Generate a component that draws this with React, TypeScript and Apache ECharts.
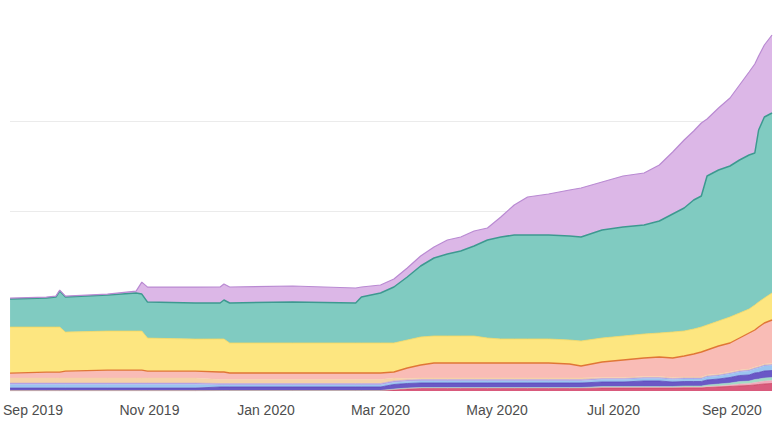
import React, { useEffect, useRef } from "react";
import * as echarts from "echarts";

const dates = [
  "2019-08-20", "2019-09-08", "2019-09-13", "2019-09-15", "2019-09-18", "2019-10-10", "2019-10-25", "2019-10-28",
  "2019-10-31", "2019-11-25", "2019-12-08", "2019-12-10", "2019-12-13", "2020-01-15", "2020-02-17", "2020-02-20",
  "2020-03-01", "2020-03-08", "2020-03-15", "2020-03-22", "2020-03-29", "2020-04-05", "2020-04-12", "2020-04-19",
  "2020-04-26", "2020-05-03", "2020-05-10", "2020-05-17", "2020-05-28", "2020-06-08", "2020-06-14", "2020-06-25",
  "2020-07-06", "2020-07-17", "2020-07-25", "2020-08-01", "2020-08-07", "2020-08-12", "2020-08-16", "2020-08-19",
  "2020-08-25", "2020-08-31", "2020-09-05", "2020-09-10", "2020-09-13", "2020-09-15", "2020-09-18", "2020-09-22",
];

const crimson = [
  0.4, 0.4, 0.4, 0.4, 0.4, 0.4, 0.4, 0.4, 0.4, 0.4,
  0.5, 0.5, 0.5, 0.5, 0.5, 0.5, 0.5,
  1, 2, 2.5, 2.5, 2.5, 2.5, 2.5, 2.5, 2.5, 2.5, 2.5, 2.5, 2.5, 2.5,
  3, 3, 3, 3, 3, 3, 3, 3,
  3.5, 4, 4.5, 5, 5.5, 6, 6.5, 7, 7.5,
];
const rose = [
  0, 0, 0, 0, 0, 0, 0, 0, 0, 0,
  0, 0, 0, 0, 0, 0, 0,
  0.5, 0.5, 0.5, 0.5, 0.5, 0.5, 0.5, 0.5, 0.5, 0.5, 0.5, 0.5, 0.5, 0.5,
  0.5, 0.5, 0.5, 0.5, 0.5, 1, 1, 1,
  1, 1, 1.5, 2, 2, 2.5, 2.5, 3, 3,
];
const mint = [
  0, 0, 0, 0, 0, 0, 0, 0, 0, 0,
  0, 0, 0, 0, 0, 0, 0,
  0.5, 0.5, 0.5, 0.5, 0.5, 0.5, 0.5, 0.5, 0.5, 0.5, 0.5, 0.5, 0.5, 0.5,
  1, 1, 1, 1, 1, 1, 1, 1,
  1.5, 2, 2, 2.5, 2.5, 3, 3, 3, 3,
];
const indigo = [
  2.5, 2.5, 2.5, 2.5, 2.5, 2.5, 2.5, 2.5, 2.5, 2.5,
  3.5, 3.5, 3.5, 3.5, 3.5, 3.5, 3.5,
  4.5, 4.5, 4.5, 4.5, 4.5, 4.5, 4.5, 4.5, 4.5, 4.5, 4.5, 4.5, 4.5, 4.5,
  4.5, 4.5, 5.5, 5.5, 4.5, 4.5, 4.5, 4.5,
  5, 5, 5.5, 6, 6, 6.5, 6.5, 7, 7,
];
const sky = [
  3.5, 3.5, 3.5, 3.5, 3.5, 3.5, 3.5, 3.5, 3.5, 3.5,
  2, 2, 2, 2, 2, 2, 2,
  2, 2, 2, 2, 2, 2, 2, 2, 2, 2, 2, 2, 2, 2,
  2.5, 2.5, 2.5, 2.5, 2.5, 2.5, 2.5, 2.5,
  3, 3, 3.5, 3.5, 4, 4, 4.5, 5, 5,
];
const lavender = [
  1.5, 1.5, 1.5, 1.5, 1.5, 1.5, 1.5, 1.5, 1.5, 1.5,
  1.5, 1.5, 1.5, 1.5, 1.5, 1.5, 1.5,
  1.5, 1.5, 1.5, 1.5, 1.5, 1.5, 1.5, 1.5, 1.5, 1.5, 1.5, 1.5, 1.5, 1.5,
  1, 1, 1, 1, 1, 1, 1, 1,
  1, 1, 1, 1, 1, 1, 1, 1, 1,
];
const tan = [
  5, 5, 5, 5, 5, 5, 5, 5, 5, 5,
  4, 4, 4, 4, 4, 4, 4,
  3, 1.5, 1.5, 1.5, 1.5, 1.5, 1.5, 1.5, 1.5, 1.5, 1.5, 1.5, 1.5, 1.5,
  1, 1, 1, 1, 1, 1, 1, 1,
  1, 1, 1, 1, 1, 1, 1, 1, 1,
];
const salmon = [
  5, 6, 6, 6, 7, 8, 8, 8, 7, 7,
  7.5, 7.5, 6.5, 6.5, 6.5, 6.5, 6.5,
  6, 10.5, 13, 15, 15, 15, 15, 15, 15, 15, 15, 15, 14, 12,
  15.5, 17.5, 18.5, 19.5, 19.5, 21, 23, 25,
  25, 28, 29, 32, 36, 37, 39, 41, 43.5,
];
const yellow = [
  46, 45, 45, 45, 39, 39, 39, 39, 33, 32,
  33, 33, 30, 30, 30, 30, 30,
  29, 28, 28, 27, 27, 27, 27, 25, 24, 24, 24, 24, 24, 25,
  24, 24, 24, 24, 26, 25, 25, 25,
  25, 25, 26, 25, 24, 25, 25, 25, 27,
];
const teal = [
  28, 29, 30, 36, 35, 36, 38, 37, 36, 36,
  36, 39, 40, 41, 40, 46, 50,
  56, 63, 71, 78, 82, 85, 90, 98, 102, 104, 104, 104, 104, 104,
  108, 109, 109, 112, 118, 123, 129, 131,
  149, 151, 151, 153, 154, 152, 172, 181, 180,
];
const lilac = [
  1, 1, 1, 1, 1, 1, 2, 12, 15, 16,
  16, 16, 16, 16, 15, 10, 8,
  8, 9, 10, 11, 14, 14, 15, 12, 20, 30, 38, 41, 46, 49,
  48, 51, 52, 56, 62, 68, 69, 73,
  57, 62, 68, 75, 83, 89, 74, 72, 78,
];

const monthNames = ["Jan", "Feb", "Mar", "Apr", "May", "Jun", "Jul", "Aug", "Sep", "Oct", "Nov", "Dec"];

const layers = [
  { name: "A", values: crimson, fill: "#d95a7c", line: "#c8445f", width: 0.8 },
  { name: "B", values: rose, fill: "#f2a9bc", line: "#f2a9bc", width: 0.5 },
  { name: "C", values: mint, fill: "#a3dcc6", line: "#a3dcc6", width: 0.5 },
  { name: "D", values: indigo, fill: "#6a58c6", line: "#5a47b8", width: 0.8 },
  { name: "E", values: sky, fill: "#9cc5f0", line: "#9cc5f0", width: 0.5 },
  { name: "F", values: lavender, fill: "#b7a6e6", line: "#a896e0", width: 0.5 },
  { name: "G", values: tan, fill: "#f5d2a8", line: "#f5d2a8", width: 0.5 },
  { name: "H", values: salmon, fill: "#f9bcb6", line: "#e07636", width: 1.4 },
  { name: "I", values: yellow, fill: "#fde680", line: "#f6d860", width: 0.8 },
  { name: "J", values: teal, fill: "#80cbc1", line: "#3d9990", width: 1.5 },
  { name: "K", values: lilac, fill: "#dcb7e7", line: "#b98ad2", width: 1.2 },
];

export default function App() {
  const ref = useRef<HTMLDivElement>(null);
  useEffect(() => {
    if (!ref.current) return;
    const chart = echarts.init(ref.current, undefined, { renderer: "svg" });
    chart.setOption({
      animation: false,
      backgroundColor: "#ffffff",
      grid: { left: 8, right: 8, top: 31, bottom: 48 },
      xAxis: {
        type: "time",
        min: "2019-08-20",
        max: "2020-09-22",
        splitNumber: 6,
        axisLine: { show: false },
        axisTick: { show: false },
        splitLine: { show: false },
        axisLabel: {
          color: "#4d4d4d",
          fontSize: 14,
          fontFamily: "Liberation Sans, Arial, sans-serif",
          margin: 12,
          formatter: (v: number) => {
            const d = new Date(v);
            return monthNames[d.getMonth()] + " " + d.getFullYear();
          },
        },
      },
      yAxis: {
        type: "value",
        min: 0,
        max: 360,
        interval: 90,
        axisLine: { show: false },
        axisTick: { show: false },
        axisLabel: { show: false },
        splitLine: { lineStyle: { color: "#ebebeb", width: 1 }, showMaxLine: false, showMinLine: false },
      },
      series: layers.map((l) => ({
        name: l.name,
        type: "line",
        stack: "total",
        symbol: "none",
        showSymbol: false,
        data: dates.map((d, i) => [d, l.values[i]]),
        lineStyle: { color: l.line, width: l.width },
        areaStyle: { color: l.fill, opacity: 1 },
        itemStyle: { color: l.fill },
      })),
    });
    return () => chart.dispose();
  }, []);
  return <div ref={ref} style={{ position: "fixed", left: 0, top: 0, width: 780, height: 439 }} />;
}
